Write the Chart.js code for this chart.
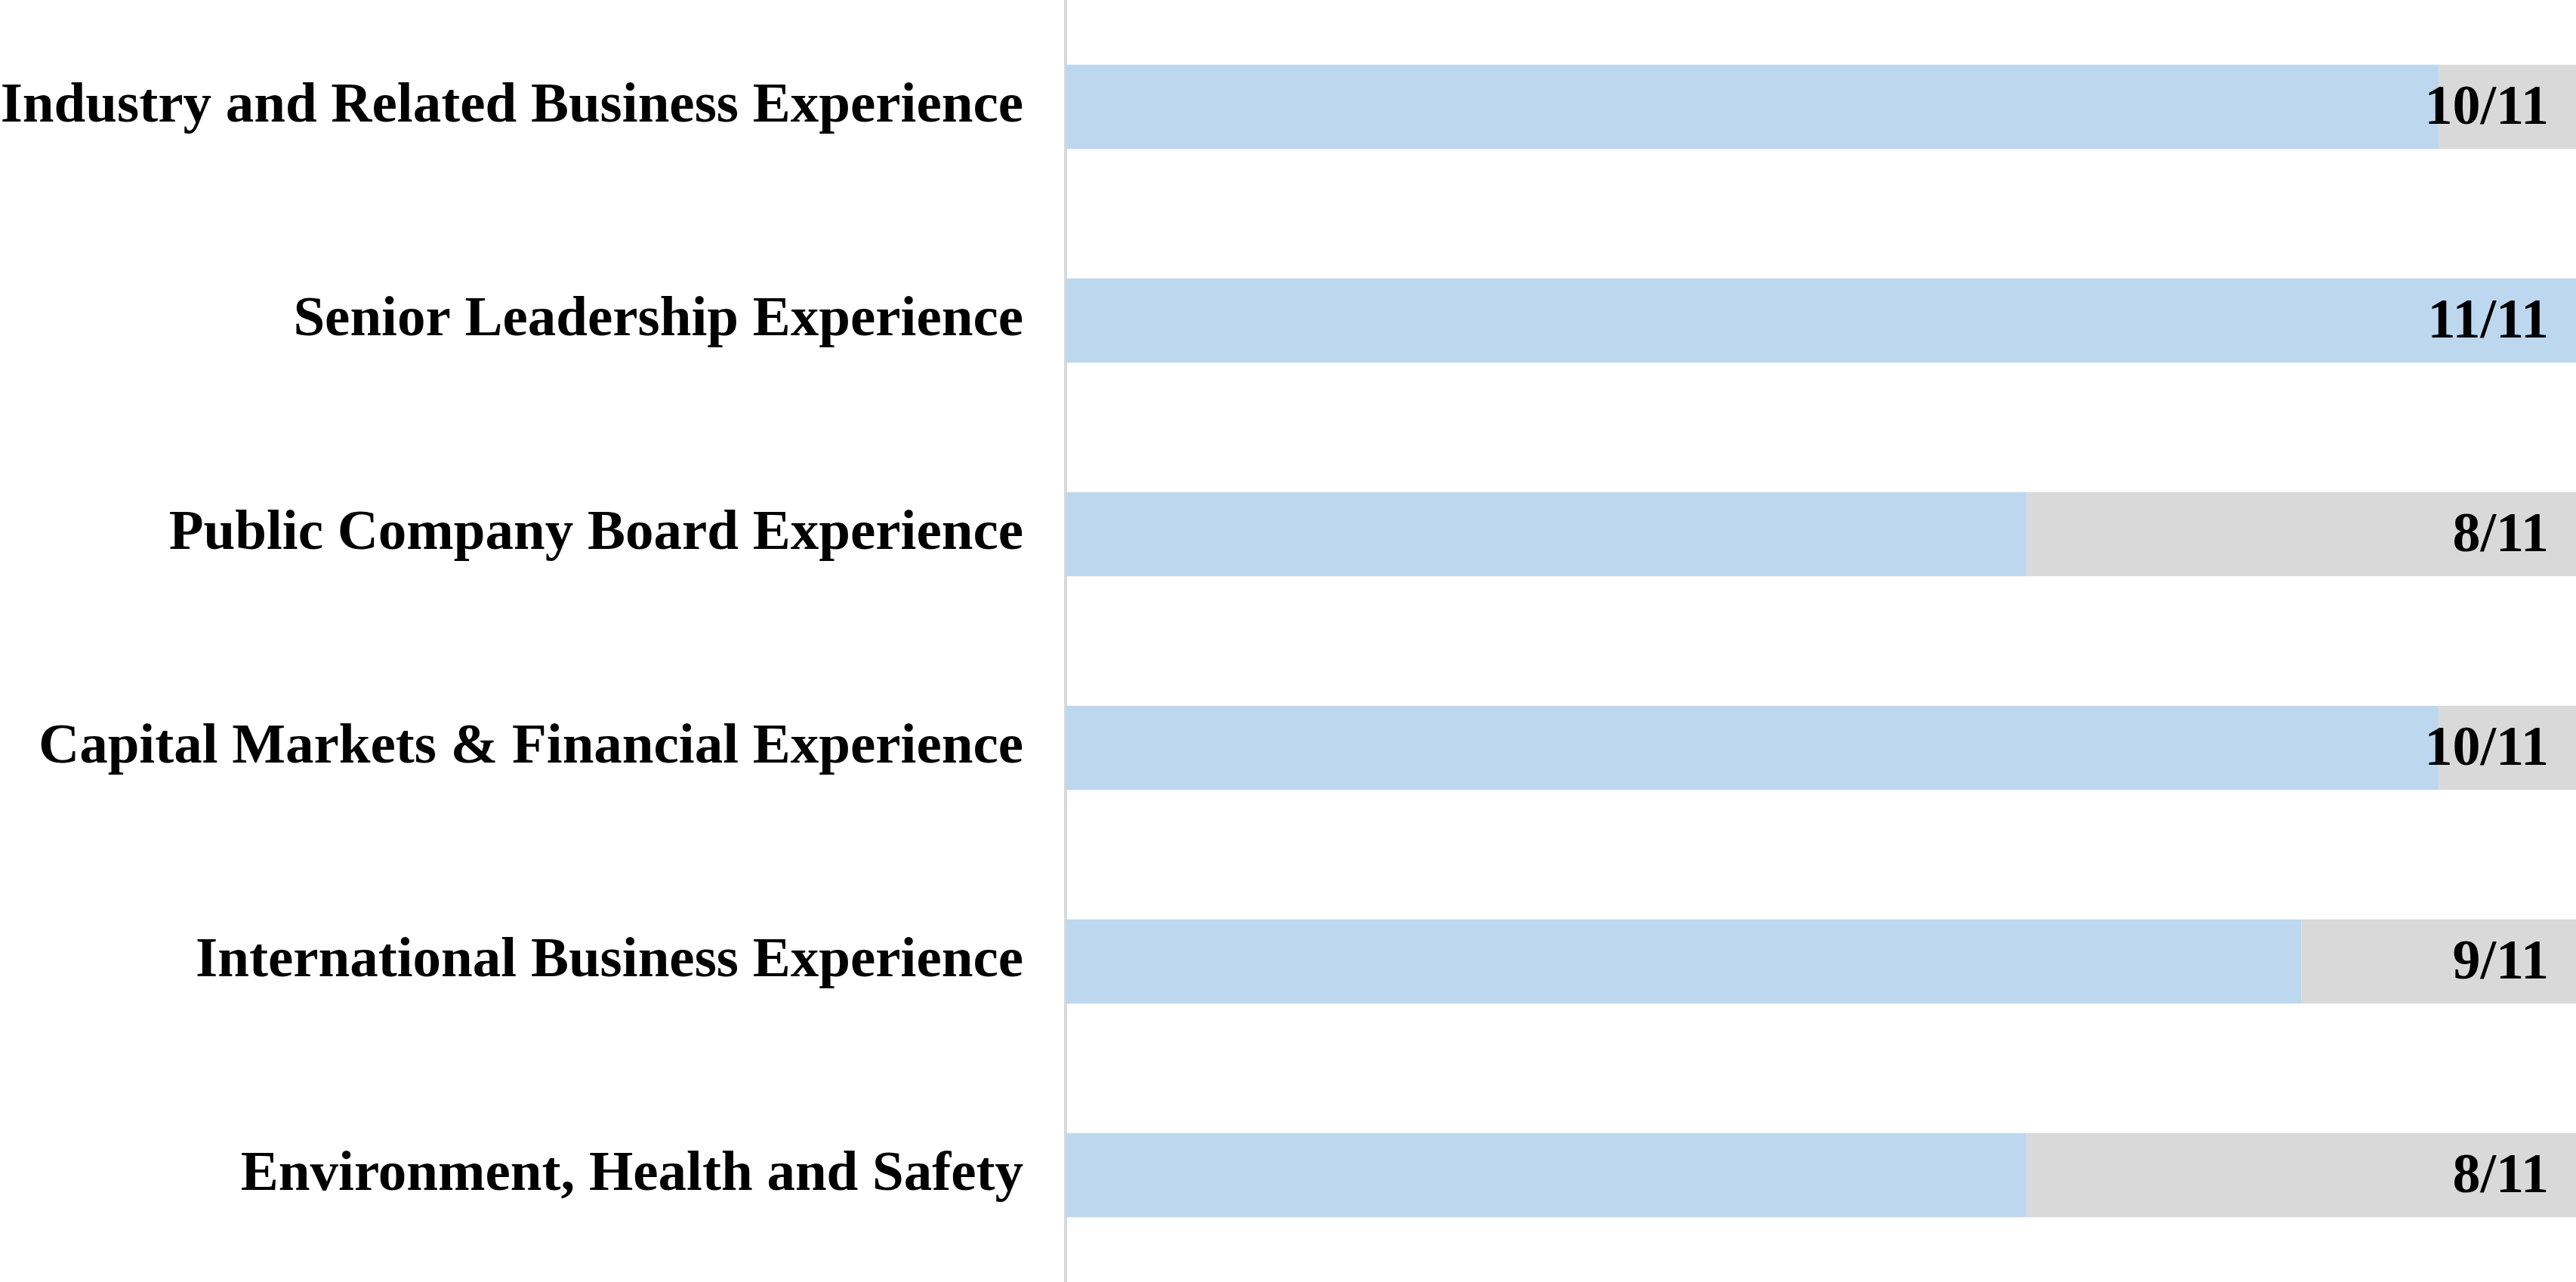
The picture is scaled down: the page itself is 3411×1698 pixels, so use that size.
<!DOCTYPE html>
<html>
<head>
<meta charset="utf-8">
<script src="https://cdn.jsdelivr.net/npm/chart.js@4.4.1/dist/chart.umd.min.js"></script>
<style>
  html, body { margin: 0; padding: 0; background: #fff; }
  canvas { display: block; }
</style>
</head>
<body>
<canvas id="skills" width="3411" height="1698"></canvas>
<script>
// ── data ────────────────────────────────────────────────────────────────────
const categories = [
  'Industry and Related Business Experience',
  'Senior Leadership Experience',
  'Public Company Board Experience',
  'Capital Markets & Financial Experience',
  'International Business Experience',
  'Environment, Health and Safety',
];
const directorsWith = [10, 11, 7, 10, 9, 7];   // blue bar length as drawn
const remainder = [1, 0, 4, 1, 2, 4];          // grey fill up to the board size
const countLabels = ['10/11', '11/11', '8/11', '10/11', '9/11', '8/11'];
const boardSize = 11;

const FONT = '"Liberation Serif", "Times New Roman", serif';

// count text at the right end of each row
const countLabelPlugin = {
  id: 'countLabels',
  afterDatasetsDraw(chart) {
    const { ctx, chartArea } = chart;
    const meta = chart.getDatasetMeta(0);
    ctx.save();
    ctx.font = 'bold 74px ' + FONT;
    ctx.fillStyle = '#000';
    ctx.textAlign = 'right';
    ctx.textBaseline = 'middle';
    meta.data.forEach((bar, i) => {
      ctx.fillText(countLabels[i], chartArea.right - 36, bar.y + 3);
    });
    ctx.restore();
  },
};

new Chart(document.getElementById('skills'), {
  type: 'bar',
  data: {
    labels: categories,
    datasets: [
      {
        data: directorsWith,
        backgroundColor: '#BDD7EE',
        borderWidth: 0,
        barPercentage: 0.394,
        categoryPercentage: 1,
      },
      {
        data: remainder,
        backgroundColor: '#D9D9D9',
        borderWidth: 0,
        barPercentage: 0.394,
        categoryPercentage: 1,
      },
    ],
  },
  options: {
    indexAxis: 'y',
    responsive: false,
    animation: false,
    layout: { padding: 0 },
    scales: {
      x: {
        stacked: true,
        min: 0,
        max: boardSize,
        display: false,
      },
      y: {
        stacked: true,
        grid: { display: false, drawTicks: false },
        border: { display: true, color: '#D9D9D9', width: 4 },
        ticks: {
          color: '#000',
          padding: 56,
          font: { family: FONT, size: 75, weight: 'bold' },
        },
        afterFit(scale) {
          scale.width = 1411;
          scale.paddingTop = 0;
          scale.paddingBottom = 0;
        },
      },
    },
    plugins: {
      legend: { display: false },
      tooltip: { enabled: false },
    },
  },
  plugins: [countLabelPlugin],
});
</script>
</body>
</html>
